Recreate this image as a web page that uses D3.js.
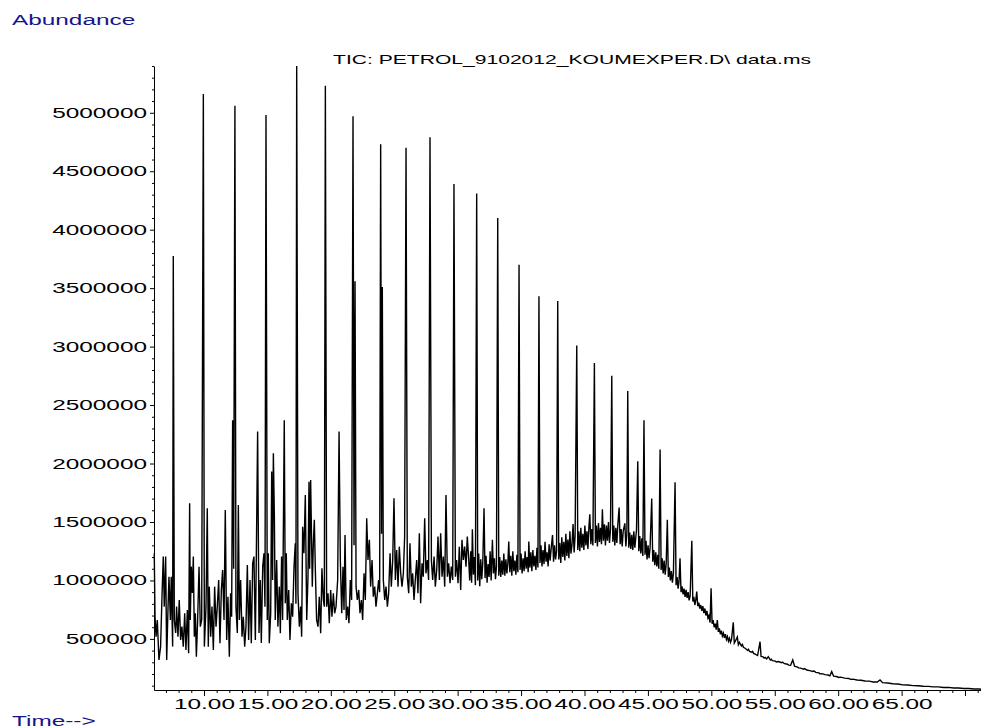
<!DOCTYPE html>
<html>
<head>
<meta charset="utf-8">
<script src="https://cdn.jsdelivr.net/npm/d3@7"></script>
<style>
  body { margin: 0; background: #fff; }
  svg { display: block; }
  text { font-family: "Liberation Sans", Arial, sans-serif; }
</style>
</head>
<body>
<div id="tic"></div>
<script>
// retention time (min), abundance (thousands)
var ticEarly = [
  [6.08,1233],[6.14,690],[6.22,519],[6.32,662],[6.45,320],[6.58,434],[6.69,861],[6.79,1204],[6.87,776],[6.98,1204],
  [7.06,320],[7.16,748],[7.24,1032],[7.35,662],[7.42,1032],[7.53,434],[7.58,3776],[7.66,662],[7.77,551],[7.84,776],
  [7.95,519],[8.05,833],[8.16,491],[8.26,605],[8.37,434],[8.48,719],[8.58,405],[8.69,748],[8.79,377],[8.87,1660],
  [8.92,662],[9.00,1118],[9.08,893],[9.16,1204],[9.24,519],[9.32,719],[9.40,348],[9.50,662],[9.61,1118],[9.71,605],
  [9.82,662],[9.95,5160],[10.03,434],[10.16,776],[10.26,1617],[10.34,434],[10.42,947],[10.53,519],[10.63,776],[10.74,405],
  [10.84,947],[10.95,605],[11.05,776],[11.16,1004],[11.26,463],[11.37,919],[11.47,1090],[11.58,662],[11.68,1603],[11.79,491],
  [11.89,861],[12.00,348],[12.10,890],[12.18,690],[12.26,2370],[12.34,1100],[12.44,5060],[12.52,776],[12.63,551],[12.71,1646],
  [12.79,662],[12.89,1004],[13.00,519],[13.10,690],[13.21,434],[13.31,605],[13.42,1133],[13.52,491],[13.63,1004],[13.73,463],
  [13.84,1147],[13.94,1204],[14.05,491],[14.13,1233],[14.23,2273],[14.34,551],[14.44,1004],[14.52,465],[14.63,1118],[14.73,1233],
  [14.81,776],[14.89,4980],[14.99,662],[15.07,1233],[15.15,463],[15.26,719],[15.34,1931],[15.41,1004],[15.47,2088],[15.55,1546],
  [15.62,662],[15.73,1175],[15.83,605],[15.94,947],[16.02,548],[16.12,1204],[16.20,662],[16.33,2370],[16.41,805],[16.49,1233],
  [16.57,662],[16.68,919],[16.78,491],[16.89,805],[16.99,690],[17.10,1118],[17.20,1318],[17.25,800],[17.31,5400],[17.41,890],
  [17.52,605],[17.62,776],[17.70,519],[17.78,1460],[17.88,1233]
];

var ticMid = [
  [17.99,1731],[18.10,662],[18.20,1032],[18.28,1845],[18.33,1100],[18.41,1860],[18.54,947],[18.62,1318],[18.70,1518],[18.78,1090],
  [18.88,662],[18.99,605],[19.09,861],[19.20,548],[19.30,1104],[19.41,833],[19.49,776],[19.57,5230],[19.67,776],[19.78,890],
  [19.88,634],[19.99,919],[20.09,690],[20.20,890],[20.30,719],[20.41,776],[20.54,1004],[20.65,2273],[20.75,1175],[20.86,719],
  [20.96,1118],[21.04,748],[21.12,1389],[21.22,662],[21.33,776],[21.43,634],[21.54,1004],[21.64,833],[21.75,4970],[21.83,1300],
  [21.91,3560],[21.99,947],[22.09,833],[22.20,919],[22.30,719],[22.41,833],[22.51,662],[22.62,1061],[22.72,833],[22.83,1532],
  [22.93,1175],[23.04,1347],[23.14,947],[23.25,1175],[23.35,861],[23.46,947],[23.56,776],[23.67,890],[23.77,1004],[23.85,900],
  [23.93,4730],[24.00,1400],[24.06,3510],[24.14,1004],[24.25,833],[24.35,947],[24.46,776],[24.56,890],[24.67,1233],[24.77,947],
  [24.88,1175],[24.98,1703],[25.09,1004],[25.19,1261],[25.30,947],[25.40,1289],[25.51,1061],[25.61,947],[25.72,1061],[25.82,1375],
  [25.93,4700],[26.03,1032],[26.14,890],[26.24,1318],[26.35,947],[26.45,1061],[26.56,833],[26.66,1004],[26.77,1175],[26.87,890],
  [26.98,1404],[27.08,805],[27.19,1147],[27.29,1032],[27.40,1532],[27.50,1061],[27.61,1175],[27.71,1004],[27.82,4790],[27.93,1175],
  [28.03,1004],[28.14,1204],[28.24,947],[28.35,1090],[28.45,1375],[28.56,1004],[28.66,1404],[28.77,1032],[28.87,1204],[28.98,947],
  [29.08,1731],[29.19,1032],[29.29,1147],[29.40,976],[29.50,1118],[29.61,1004],[29.71,4390],[29.82,1032],[29.92,1175],[30.03,976],
  [30.13,1289],[30.24,919],[30.34,1347],[30.45,1175],[30.55,1289],[30.66,1118],[30.76,1375]
];

var ticLate = [
  [30.87,1180],[30.95,1000],[31.03,1250],[31.10,980],[31.16,1438],[31.24,1050],[31.32,1200],[31.40,960],[31.50,4310],[31.58,1000],
  [31.66,1230],[31.74,950],[31.82,1180],[31.90,1010],[31.98,1150],[32.08,1617],[32.16,1020],[32.24,1210],[32.32,980],[32.40,1140],
  [32.48,1030],[32.56,1250],[32.64,1000],[32.74,1347],[32.82,1060],[32.90,1190],[32.98,1010],[33.06,1120],[33.16,4100],[33.24,1040],
  [33.32,1200],[33.40,1030],[33.48,1170],[33.56,1050],[33.64,1230],[33.72,1040],[33.80,1180],[33.88,1060],[33.96,1150],[34.03,1332],
  [34.11,1070],[34.19,1210],[34.27,1040],[34.35,1250],[34.43,1080],[34.51,1170],[34.59,1050],[34.67,1220],[34.75,1070],[34.84,3700],
  [34.92,1090],[35.00,1230],[35.08,1060],[35.16,1190],[35.24,1080],[35.32,1250],[35.40,1100],[35.48,1200],[35.56,1070],[35.61,1332],
  [35.69,1110],[35.77,1240],[35.85,1080],[35.93,1260],[36.01,1120],[36.09,1210],[36.17,1090],[36.25,1280],[36.33,1110],[36.41,3430],
  [36.49,1150],[36.57,1300],[36.65,1120],[36.73,1260],[36.81,1140],[36.89,1330],[36.97,1160],[37.05,1240],[37.13,1120],[37.21,1310],
  [37.29,1170],[37.37,1270],[37.48,1389],[37.56,1160],[37.64,1300],[37.72,1180],[37.80,1250],[37.89,3390],[37.97,1180],[38.05,1320],
  [38.13,1150],[38.21,1370],[38.29,1200],[38.37,1330],[38.45,1170],[38.53,1400],[38.61,1210],[38.69,1350],[38.77,1190],[38.85,1420],
  [38.93,1230],[39.01,1300],[39.10,1483],[39.18,1240],[39.26,1380],[39.39,3010],[39.47,1260],[39.55,1420],[39.63,1250],[39.71,1450],
  [39.79,1280],[39.87,1400],[39.95,1260],[40.03,1470],[40.11,1300],[40.19,1420],[40.27,1270],[40.35,1460],[40.42,1566],[40.50,1310],
  [40.58,1440],[40.66,1300],[40.78,2860],[40.86,1320],[40.94,1470],[41.02,1290],[41.10,1490],[41.18,1330],[41.26,1450],[41.34,1310],
  [41.41,1609],[41.49,1340],[41.57,1480],[41.65,1300],[41.73,1470],[41.81,1340],[41.89,1500],[41.97,1320],[42.05,1440],[42.15,2750],
  [42.23,1330],[42.31,1470],[42.39,1300],[42.47,1450],[42.55,1320],[42.63,1480],[42.73,1623],[42.81,1310],[42.89,1440],[42.97,1290],
  [43.05,1420],[43.18,1489],[43.26,1290],[43.34,1400],[43.41,2620],[43.49,1280],[43.57,1410],[43.65,1270],[43.73,1390],[43.81,1260],
  [43.89,1420],[43.97,1280],[44.10,1432],[44.20,2020],[44.28,1250],[44.36,1380],[44.44,1230],[44.52,1360],[44.60,1210],[44.69,2370],
  [44.77,1220],[44.85,1340],[44.93,1180],[45.01,1300],[45.09,1190],[45.17,1280],[45.30,1700],[45.38,1160],[45.46,1260],[45.54,1130],
  [45.62,1240],[45.70,1120],[45.78,1220],[45.86,1100],[45.96,2120],[46.04,1090],[46.12,1190],[46.20,1060],[46.28,1170],[46.36,1050],
  [46.44,1140],[46.53,1520],[46.61,1030],[46.69,1110],[46.77,1000],[46.85,1080],[46.93,980],[47.01,1060],[47.14,1840],[47.22,960],
  [47.30,1030],[47.38,930],[47.45,990],[47.53,1190],[47.61,900],[47.69,950],[47.77,880],[47.85,930],[47.93,860],[48.01,920],
  [48.09,850],[48.17,900],[48.25,830],[48.33,870],[48.46,1340],[48.54,820],[48.62,860],[48.70,790],[48.77,830],[48.85,904],
  [48.93,780],[49.01,810],[49.09,760],[49.17,790],[49.25,740],[49.33,780],[49.41,720],[49.49,760],[49.57,700],[49.65,740],
  [49.73,680],[49.81,700],[49.90,640]
];

var ticTail = [
  [49.98,933],[50.06,630],[50.14,660],[50.22,600],[50.30,630],[50.38,580],[50.47,662],[50.55,560],[50.63,590],[50.71,540],
  [50.79,570],[50.87,525],[50.95,550],[51.03,510],[51.11,540],[51.19,495],[51.27,520],[51.35,480],[51.43,505],[51.51,470],
  [51.59,495],[51.73,642],[51.81,465],[51.89,480],[52.05,516],[52.13,450],[52.21,470],[52.37,440],[52.45,452],[52.53,428],
  [52.69,418],[52.85,402],[52.93,412],[53.01,392],[53.17,386],[53.25,394],[53.33,376],[53.49,368],[53.65,358],[53.84,476],
  [53.92,350],[54.08,346],[54.16,336],[54.24,342],[54.36,328],[54.49,348],[54.65,320],[54.73,326],[54.81,314],[55.05,310],
  [55.13,302],[55.29,306],[55.53,296],[55.61,301],[55.77,288],[56.01,283],[56.09,276],[56.25,274],[56.42,320],[56.56,266],
  [56.80,259],[56.88,252],[57.04,250],[57.28,241],[57.36,246],[57.52,234],[57.76,229],[58.00,221],[58.08,226],[58.24,214],
  [58.48,209],[58.56,201],[58.72,203],[58.96,195],[59.20,191],[59.35,184],[59.49,220],[59.64,181],[59.88,178],[60.04,170],
  [60.20,173],[60.52,165],[60.84,161],[61.00,154],[61.16,156],[61.48,149],[61.80,146],[62.12,140],[62.44,139],[62.76,132],
  [63.08,131],[63.30,149],[63.50,126],[63.90,123],[64.30,116],[64.70,114],[65.10,107],[65.50,106],[65.90,100],[66.30,99],
  [66.70,95],[67.10,94],[67.50,90],[67.90,90],[68.30,85],[68.70,85],[69.10,80],[69.50,80],[69.90,76],[70.30,76],
  [70.70,71],[71.10,71],[71.26,69]
];

var yMajorTicks = [500000, 1000000, 1500000, 2000000, 2500000, 3000000, 3500000, 4000000, 4500000, 5000000];
var xMajorTicks = [10, 15, 20, 25, 30, 35, 40, 45, 50, 55, 60, 65, 70];
var xTickLabels = ["10.00", "15.00", "20.00", "25.00", "30.00", "35.00", "40.00", "45.00", "50.00", "55.00", "60.00", "65.00", ""];
var timeRange = [6.06, 71.26];
var abundRange = [63000, 5400000];

var titleText = "TIC: PETROL_9102012_KOUMEXPER.D\\ data.ms";

var W = 981, H = 728;
var stretch = 1.74;   // the original export has horizontally stretched lettering
var blue = "#16168a";

var svg = d3.select("#tic").append("svg")
  .attr("width", W)
  .attr("height", H);

var x = d3.scaleLinear()
  .domain(timeRange)
  .range([154, 981]);

var y = d3.scaleLinear()
  .domain(abundRange)
  .range([690, 66]);

var trace = ticEarly.concat(ticMid, ticLate, ticTail);

// minor ticks every minute / every 100000 counts
var xMinor = d3.range(7, 72, 1).filter(function(d) { return d % 5 != 0; });
var yMinor = d3.range(100000, 5400001, 100000).filter(function(d) { return d % 500000 != 0; });

// y axis
svg.append("g")
  .attr("transform", "translate(154,0)")
  .call(d3.axisLeft(y).tickValues(yMinor).tickSize(2).tickSizeOuter(0).tickFormat(""))
  .call(function(g) { g.select(".domain").remove(); });

var yAxis = svg.append("g")
  .attr("transform", "translate(154,0)")
  .call(d3.axisLeft(y).tickValues(yMajorTicks).tickSize(4).tickSizeOuter(0).tickPadding(3)
    .tickFormat(d3.format("d")));

yAxis.selectAll("text")
  .attr("font-size", 14)
  .attr("font-family", "'Liberation Sans', Arial, sans-serif")
  .attr("fill", "#000")
  .attr("x", -7 / stretch)
  .attr("transform", "scale(" + stretch + ",1)");

// x axis
svg.append("g")
  .attr("transform", "translate(0,690)")
  .call(d3.axisBottom(x).tickValues(xMinor).tickSize(3).tickSizeOuter(0).tickFormat(""))
  .call(function(g) { g.select(".domain").remove(); });

var xAxis = svg.append("g")
  .attr("transform", "translate(0,690)")
  .call(d3.axisBottom(x).tickValues(xMajorTicks).tickSize(6).tickSizeOuter(0).tickPadding(3)
    .tickFormat(function(d, i) { return xTickLabels[i]; }));

xAxis.selectAll("text")
  .attr("font-size", 14)
  .attr("font-family", "'Liberation Sans', Arial, sans-serif")
  .attr("fill", "#000")
  .attr("transform", "scale(" + stretch + ",1)");

svg.selectAll(".domain, .tick line").attr("stroke", "#000");

// the chromatogram
var line = d3.line()
  .x(function(d) { return x(d[0]); })
  .y(function(d) { return y(d[1] * 1000); });

svg.append("path")
  .datum(trace)
  .attr("fill", "none")
  .attr("stroke", "#000")
  .attr("stroke-width", 1.4)
  .attr("stroke-linejoin", "miter")
  .attr("d", line);

// labels
svg.append("text")
  .attr("transform", "translate(12,25) scale(" + stretch + ",1)")
  .attr("font-size", 14)
  .attr("fill", blue)
  .text("Abundance");

svg.append("text")
  .attr("transform", "translate(12,726) scale(" + stretch + ",1)")
  .attr("font-size", 14)
  .attr("fill", blue)
  .text("Time-->");

svg.append("text")
  .attr("x", 333)
  .attr("y", 64)
  .attr("font-size", 13)
  .attr("fill", "#000")
  .attr("textLength", 478)
  .attr("lengthAdjust", "spacingAndGlyphs")
  .text(titleText);
</script>
</body>
</html>
